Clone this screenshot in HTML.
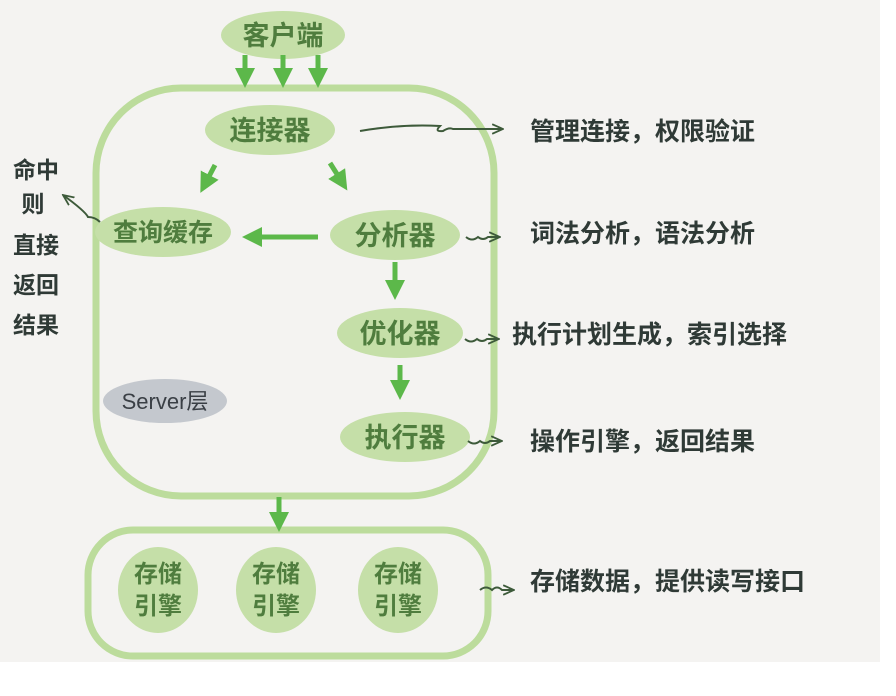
<!DOCTYPE html>
<html><head><meta charset="utf-8"><style>
html,body{margin:0;padding:0;background:#fff;}
svg text{font-family:"Liberation Sans","Noto Sans CJK SC",sans-serif;}
</style></head><body>
<svg width="896" height="691" viewBox="0 0 896 691" xmlns="http://www.w3.org/2000/svg">
<defs>
<marker id="g" viewBox="0 0 10 10" refX="5" refY="5" markerWidth="4" markerHeight="4" orient="auto"><path d="M0,0 L10,5 L0,10 z" fill="#5cb84a"/></marker>
<marker id="d" viewBox="0 0 10 10" refX="9" refY="5" markerWidth="6" markerHeight="6" orient="auto"><path d="M0,1 L9,5 L0,9" fill="none" stroke="#3d5a3a" stroke-width="1.5"/></marker>
</defs>
<rect x="0" y="0" width="880" height="662" fill="#f4f3f1"/>
<rect x="96" y="88" width="398" height="408" rx="85" fill="none" stroke="#bcdc9c" stroke-width="7"/>
<rect x="88" y="530" width="400" height="126" rx="45" fill="none" stroke="#bcdc9c" stroke-width="7"/>
<g fill="#c5dfa8">
<ellipse cx="283" cy="35" rx="62" ry="24"/>
<ellipse cx="270" cy="130" rx="65" ry="25"/>
<ellipse cx="163" cy="232" rx="68" ry="25"/>
<ellipse cx="395" cy="235" rx="65" ry="25"/>
<ellipse cx="400" cy="333" rx="63" ry="25"/>
<ellipse cx="405" cy="437" rx="65" ry="25"/>
<ellipse cx="158" cy="590" rx="40" ry="43"/>
<ellipse cx="276" cy="590" rx="40" ry="43"/>
<ellipse cx="398" cy="590" rx="40" ry="43"/>
</g>
<ellipse cx="165" cy="401" rx="62" ry="22" fill="#c4c8ce"/>
<g stroke="#5cb84a" stroke-width="5" marker-end="url(#g)" fill="none">
<line x1="245" y1="55" x2="245" y2="78"/>
<line x1="283" y1="55" x2="283" y2="78"/>
<line x1="318" y1="55" x2="318" y2="78"/>
<line x1="215" y1="165" x2="205" y2="184"/>
<line x1="330" y1="163" x2="342" y2="182"/>
<line x1="318" y1="237" x2="252" y2="237"/>
<line x1="395" y1="262" x2="395" y2="290"/>
<line x1="400" y1="365" x2="400" y2="390"/>
<line x1="279" y1="497" x2="279" y2="522"/>
</g>
<g stroke="#3d5a3a" stroke-width="2" fill="none" marker-end="url(#d)">
<path d="M360,131 Q400,124 440,126 q-6,6 3,5 q6,-4 10,-2 l50,0"/>
<path d="M466,237 q6,5 12,0 q5,4 10,0 l12,0"/>
<path d="M465,339 q6,5 12,0 q5,4 10,0 l12,0"/>
<path d="M468,441 q6,5 12,0 q5,4 10,0 l12,0"/>
<path d="M480,590 q6,-5 12,0 q5,-5 10,0 l12,0"/>
<path d="M100,222 q-5,-5 -12,-5 q-3,-6 -25,-22"/>
</g>
<g fill="#4f7d3e" font-size="27" font-weight="bold" text-anchor="middle">
<text x="283" y="45">客户端</text>
<text x="270" y="140">连接器</text>
<text x="163" y="241" font-size="25">查询缓存</text>
<text x="395" y="245">分析器</text>
<text x="400" y="343">优化器</text>
<text x="405" y="447">执行器</text>
<text x="158" y="582" font-size="24">存储</text><text x="158" y="614" font-size="24">引擎</text>
<text x="276" y="582" font-size="24">存储</text><text x="276" y="614" font-size="24">引擎</text>
<text x="398" y="582" font-size="24">存储</text><text x="398" y="614" font-size="24">引擎</text>
</g>
<text x="165" y="409" text-anchor="middle" font-size="22" fill="#3a3f45">Server层</text>
<g fill="#2f3a36" font-size="25" font-weight="bold">
<text x="530" y="140">管理连接，权限验证</text>
<text x="530" y="242">词法分析，语法分析</text>
<text x="512" y="343">执行计划生成，索引选择</text>
<text x="530" y="450">操作引擎，返回结果</text>
<text x="530" y="590">存储数据，提供读写接口</text>
</g>
<g fill="#2f3a36" font-size="23" font-weight="bold" text-anchor="middle">
<text x="36" y="178">命中</text>
<text x="33" y="212">则</text>
<text x="36" y="253">直接</text>
<text x="36" y="293">返回</text>
<text x="36" y="333">结果</text>
</g>
</svg>
</body></html>
